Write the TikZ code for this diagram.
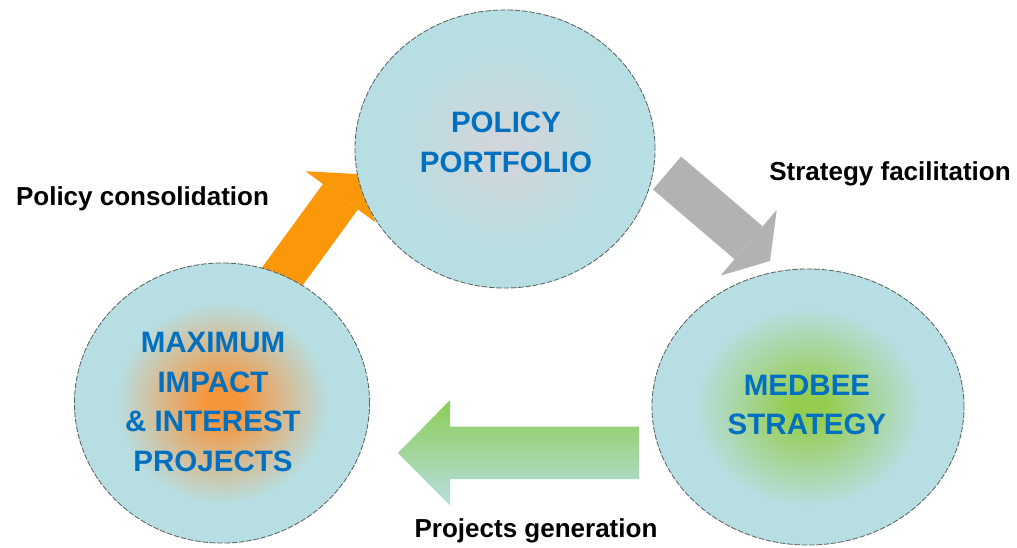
\documentclass[tikz,border=0pt]{standalone}
\usepackage{fontspec}
\setmainfont{Liberation Sans}
\usetikzlibrary{shapes.geometric,arrows.meta}

\definecolor{ringTeal}{RGB}{183,222,226}
\definecolor{ringEdge}{RGB}{90,100,100}
\definecolor{policyBlue}{RGB}{0,112,192}
\definecolor{glowGray}{RGB}{208,214,219}
\definecolor{glowOrange}{RGB}{246,150,60}
\definecolor{glowGreen}{RGB}{150,205,80}
\definecolor{arrowOrange}{RGB}{250,152,10}
\definecolor{arrowGray}{RGB}{178,178,178}
\definecolor{arrowGreen}{RGB}{140,205,85}

\pgfdeclareradialshading{grayglow}{\pgfpoint{0bp}{0bp}}{color(0bp)=(glowGray); color(3bp)=(glowGray); color(19bp)=(ringTeal); color(50bp)=(ringTeal)}
\pgfdeclareradialshading{orangeglow}{\pgfpoint{0bp}{0bp}}{color(0bp)=(glowOrange); color(3bp)=(glowOrange); color(18bp)=(ringTeal); color(50bp)=(ringTeal)}
\pgfdeclareradialshading{greenglow}{\pgfpoint{0bp}{0bp}}{color(0bp)=(glowGreen); color(3bp)=(glowGreen); color(18bp)=(ringTeal); color(50bp)=(ringTeal)}

\tikzset{
  ring/.style={ellipse, inner sep=0pt, draw=ringEdge, line width=0.6pt, dash pattern=on 4pt off 1.2pt, shade},
  circtext/.style={align=center, text=policyBlue, font=\bfseries\fontsize{21}{28}\selectfont},
  steplabel/.style={anchor=base, font=\bfseries\fontsize{18.5}{22}\selectfont},
  blockarrow/.style={line width=30.8pt, -{Triangle[width=61.5pt, length=20pt, line width=0pt]}}
}

\begin{document}
\begin{tikzpicture}[x=0.025cm, y=-0.025cm]
        \useasboundingbox (0,0) rectangle (1017,547);

        % arrow ends
        \coordinate (oTail) at (279,281);
        \coordinate (oTip) at (357,174);
        \coordinate (gyTail) at (667,173);
        \coordinate (gyTip) at (770,261);
        \coordinate (gTail) at (639,453);
        \coordinate (gTip) at (398,453);

        \draw[blockarrow, arrowOrange] (oTail) -- (oTip);
        \draw[blockarrow, arrowGray] (gyTail) -- (gyTip);
        \shade[top color=arrowGreen, bottom color=ringTeal] (gTail) ++(0,-26.5) -- ++(-189,0) -- ++(0,-26.5) -- (gTip) -- ++(52,52.5) -- ++(0,-26.5) -- ++(189,0) -- cycle;

        % circles
        \node (pp) at (505,149) [ring, shading=grayglow, minimum width=7.5cm, minimum height=6.95cm] {};
        \node (mi) at (222,403) [ring, shading=orangeglow, minimum width=7.375cm, minimum height=7cm] {};
        \node (ms) at (808,407) [ring, shading=greenglow, minimum width=7.8cm, minimum height=6.9cm] {};

        \node (ppText) at (506,142.5) [circtext] {POLICY\\PORTFOLIO};
        \node (miText) at (213,402) [circtext] {MAXIMUM\\IMPACT\\\& INTEREST\\PROJECTS};
        \node (msText) at (807,405) [circtext] {MEDBEE\\STRATEGY};

        \node (consol) at (142.5,205) [steplabel] {Policy consolidation};
        \node (facil) at (890,180) [steplabel] {Strategy facilitation};
        \node (gener) at (536,537) [steplabel] {Projects generation};
    \end{tikzpicture}
\end{document}
